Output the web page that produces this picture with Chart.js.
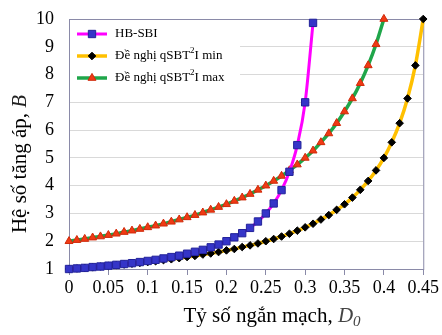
<!DOCTYPE html>
<html>
<head>
<meta charset="utf-8">
<script src="https://cdn.jsdelivr.net/npm/chart.js@4.4.1/dist/chart.umd.min.js"></script>
<style>
  html, body { margin: 0; padding: 0; background: #fff; }
  #wrap { width: 442px; height: 335px; }
</style>
</head>
<body>
<div id="wrap"><canvas id="chart" width="442" height="335"></canvas></div>
<script>
// ===== Data =====
const dutyRatio = [0, 0.01, 0.02, 0.03, 0.04, 0.05, 0.06, 0.07, 0.08, 0.09,
    0.10, 0.11, 0.12, 0.13, 0.14, 0.15, 0.16, 0.17, 0.18, 0.19,
    0.20, 0.21, 0.22, 0.23, 0.24, 0.25, 0.26, 0.27, 0.28, 0.29,
    0.30, 0.31, 0.32, 0.33, 0.34, 0.35, 0.36, 0.37, 0.38, 0.39,
    0.40, 0.41, 0.42, 0.43, 0.44, 0.45];

const hbSbi = [1.00, 1.02, 1.04, 1.07, 1.09, 1.12, 1.15, 1.18, 1.21, 1.25,
    1.29, 1.33, 1.38, 1.43, 1.48, 1.55, 1.62, 1.69, 1.78, 1.88,
    2.00, 2.14, 2.29, 2.48, 2.71, 3.00, 3.36, 3.84, 4.50, 5.46,
    7.00, 9.86];

const qsbtMin = [1.00, 1.02, 1.04, 1.06, 1.09, 1.11, 1.14, 1.16, 1.19, 1.22,
    1.25, 1.28, 1.32, 1.35, 1.39, 1.43, 1.47, 1.52, 1.56, 1.61,
    1.67, 1.72, 1.79, 1.85, 1.92, 2.00, 2.08, 2.17, 2.27, 2.38,
    2.50, 2.63, 2.78, 2.94, 3.13, 3.33, 3.57, 3.85, 4.17, 4.55,
    5.00, 5.56, 6.25, 7.14, 8.33, 10.00];

const qsbtMax = [2.00, 2.04, 2.08, 2.13, 2.17, 2.22, 2.27, 2.33, 2.38, 2.44,
    2.50, 2.56, 2.63, 2.70, 2.78, 2.86, 2.94, 3.03, 3.13, 3.23,
    3.33, 3.45, 3.57, 3.70, 3.85, 4.00, 4.17, 4.35, 4.55, 4.76,
    5.00, 5.26, 5.56, 5.88, 6.25, 6.67, 7.14, 7.69, 8.33, 9.09,
    10.00];

const xTickLabels = ['0', '0.05', '0.1', '0.15', '0.2', '0.25', '0.3', '0.35', '0.4', '0.45'];
const yTickLabels = ['1', '2', '3', '4', '5', '6', '7', '8', '9', '10'];

const SERIF = '"Liberation Serif", "Times New Roman", serif';
const BORDER = '#8a8aa8';
const TITLE_PX = 21;

function toPoints(values) {
    return values.map((v, i) => ({ x: dutyRatio[i], y: v }));
}

// ===== Series styles =====
const series = [
    { label: 'HB-SBI', data: hbSbi, line: '#ff00ff', fill: '#3535c8', edge: '#22229a', style: 'rect', radius: 5.2, width: 3 },
    { label: 'min', data: qsbtMin, line: '#ffc000', fill: '#000000', edge: '#000000', style: 'rectRot', radius: 3.8, width: 3.5 },
    { label: 'max', data: qsbtMax, line: '#1fa64a', fill: '#f03a14', edge: '#d02a0a', style: 'triangle', radius: 4.6, width: 3.5 }
];

// ===== Frame + legend + axis titles =====
const framePlugin = {
    id: 'frame',
    beforeDatasetsDraw(chart) {
        const { ctx, chartArea: a } = chart;
        ctx.save();
        ctx.strokeStyle = BORDER;
        ctx.lineWidth = 1;
        ctx.strokeRect(a.left + 0.5, a.top + 0.5, a.right - a.left, a.bottom - a.top);
        ctx.restore();
    },
    afterDraw(chart) {
        const { ctx, chartArea: a } = chart;
        ctx.save();

        // legend box
        ctx.fillStyle = '#ffffff';
        ctx.fillRect(a.left + 1, a.top + 1, 170, 70);

        const rows = [
            { s: series[0], parts: [['HB-SBI', 0]] },
            { s: series[1], parts: [['Đề nghị qSBT', 0], ['2', 1], ['I min', 0]] },
            { s: series[2], parts: [['Đề nghị qSBT', 0], ['2', 1], ['I max', 0]] }
        ];
        rows.forEach((r, i) => {
            const y = a.top + 15 + i * 22;
            const x0 = a.left + 8;
            ctx.strokeStyle = r.s.line;
            ctx.lineWidth = r.s.width;
            ctx.beginPath();
            ctx.moveTo(x0, y);
            ctx.lineTo(x0 + 30, y);
            ctx.stroke();
            ctx.fillStyle = r.s.fill;
            ctx.strokeStyle = r.s.edge;
            ctx.lineWidth = 1;
            Chart.helpers.drawPoint(ctx, { pointStyle: r.s.style, radius: r.s.radius, rotation: 0, borderWidth: 1 }, x0 + 15, y);

            let tx = x0 + 38;
            ctx.fillStyle = '#000';
            ctx.textBaseline = 'middle';
            ctx.textAlign = 'left';
            r.parts.forEach(([txt, sup]) => {
                ctx.font = (sup ? '9px ' : '13px ') + SERIF;
                ctx.fillText(txt, tx, sup ? y - 5 : y);
                tx += ctx.measureText(txt).width;
            });
        });

        // x title
        ctx.fillStyle = '#000';
        ctx.textBaseline = 'alphabetic';
        ctx.textAlign = 'left';
        const xt = 'Tỷ số ngắn mạch, ';
        const big = TITLE_PX + 'px ' + SERIF;
        const bigIt = 'italic ' + TITLE_PX + 'px ' + SERIF;
        const subIt = 'italic ' + Math.round(TITLE_PX * 0.7) + 'px ' + SERIF;
        ctx.font = big;
        const w1 = ctx.measureText(xt).width;
        ctx.font = bigIt;
        const w2 = ctx.measureText('D').width;
        ctx.font = subIt;
        const w3 = ctx.measureText('0').width;
        const sx = 272 - (w1 + w2 + w3) / 2;
        const by = 322;
        ctx.font = big;
        ctx.fillText(xt, sx, by);
        ctx.fillStyle = '#444';
        ctx.font = bigIt;
        ctx.fillText('D', sx + w1, by);
        ctx.font = subIt;
        ctx.fillText('0', sx + w1 + w2, by + 4);

        // y title
        ctx.fillStyle = '#000';
        ctx.translate(20, 164);
        ctx.rotate(-Math.PI / 2);
        ctx.textBaseline = 'middle';
        const yt = 'Hệ số tăng áp, ';
        ctx.font = big;
        const v1 = ctx.measureText(yt).width;
        ctx.font = bigIt;
        const v2 = ctx.measureText('B').width;
        const sy = -(v1 + v2) / 2;
        ctx.font = big;
        ctx.fillText(yt, sy, 0);
        ctx.fillStyle = '#222';
        ctx.font = bigIt;
        ctx.fillText('B', sy + v1, 0);

        ctx.restore();
    }
};

// ===== Chart =====
const ctx = document.getElementById('chart').getContext('2d');
new Chart(ctx, {
    type: 'line',
    data: {
        datasets: series.map(s => ({
            label: s.label,
            data: toPoints(s.data),
            borderColor: s.line,
            borderWidth: s.width,
            backgroundColor: s.fill,
            pointBackgroundColor: s.fill,
            pointBorderColor: s.edge,
            pointBorderWidth: 1,
            pointStyle: s.style,
            pointRadius: s.radius,
            tension: 0.3,
            cubicInterpolationMode: 'monotone',
            clip: false
        }))
    },
    options: {
        responsive: false,
        animation: false,
        layout: { padding: { left: 0, top: 19, right: 18, bottom: 0 } },
        plugins: { legend: { display: false }, tooltip: { enabled: false } },
        scales: {
            x: {
                type: 'linear',
                min: 0,
                max: 0.45,
                afterFit: s => { s.height = 66; },
                afterBuildTicks: s => { s.ticks = xTickLabels.map(t => ({ value: parseFloat(t) })); },
                ticks: {
                    callback: (v, i) => xTickLabels[i],
                    color: '#000',
                    font: { family: SERIF, size: 18, lineHeight: 1.1 },
                    padding: 3,
                    maxRotation: 0,
                    autoSkip: false
                },
                grid: { drawOnChartArea: false, color: BORDER, tickLength: 6 },
                border: { color: BORDER }
            },
            y: {
                min: 1,
                max: 10,
                afterFit: s => { s.width = 69; s.paddingTop = 0; s.paddingBottom = 0; },
                afterBuildTicks: s => { s.ticks = yTickLabels.map(t => ({ value: parseFloat(t) })); },
                ticks: {
                    callback: (v, i) => yTickLabels[i],
                    color: '#000',
                    font: { family: SERIF, size: 18, lineHeight: 1 },
                    padding: 15
                },
                grid: { color: '#d9d9d9', drawTicks: false },
                border: { color: BORDER }
            }
        }
    },
    plugins: [framePlugin]
});
</script>
</body>
</html>
